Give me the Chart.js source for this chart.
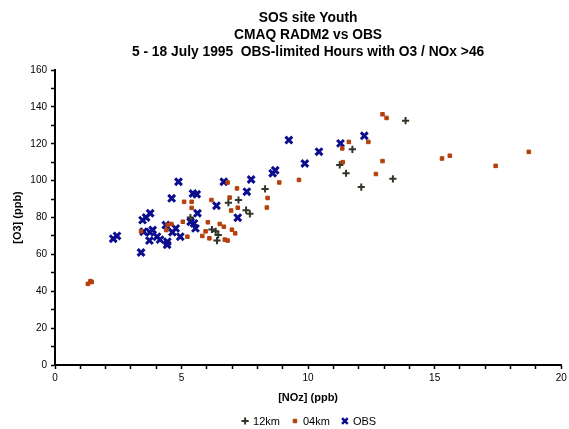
<!DOCTYPE html>
<html>
<head>
<meta charset="utf-8">
<script src="https://cdn.jsdelivr.net/npm/chart.js@4/dist/chart.umd.min.js"></script>
<style>
  html, body { margin: 0; padding: 0; background: #fff; }
  #wrap { width: 569px; height: 429px; }
</style>
</head>
<body>
<div id="wrap"><canvas id="scatter"></canvas></div>
<script>
const titleLines = [
  "SOS site Youth",
  "CMAQ RADM2 vs OBS",
  "5 - 18 July 1995  OBS-limited Hours with O3 / NOx >46",
];
const seriesNames = ["12km", "04km", "OBS"];

// [NOz, O3] pairs
const km12Points = [
  [5.35, 80], [6.2, 73.5], [6.35, 72.5], [6.45, 70.5], [6.4, 67.5],
  [6.85, 88], [7.25, 89.5], [7.55, 84], [7.7, 82], [8.3, 95.5],
  [11.25, 108.5], [11.5, 104], [11.75, 117], [12.1, 96.5], [13.35, 101],
  [13.85, 132.5],
];
const km04Points = [
  [1.3, 44], [1.4, 45.5], [1.45, 45], [3.4, 72.5], [4.4, 73.2],
  [4.45, 76], [4.6, 76.5], [5.05, 77.7], [5.1, 88.5], [5.4, 88.5],
  [5.4, 85.2], [5.23, 69.6], [5.82, 70], [5.95, 72.5], [6.04, 77.4],
  [6.1, 68.7], [6.18, 89.5], [6.51, 76.5], [6.67, 75], [6.71, 68],
  [6.82, 67.5], [6.99, 73.4], [7.12, 71.4], [6.82, 99], [7.19, 95.8],
  [6.9, 90.8], [7.22, 85.3], [6.96, 83.8], [8.4, 90.6], [8.37, 85.4],
  [8.86, 99], [9.64, 100.4], [11.35, 117.5], [11.61, 121], [12.38, 121],
  [12.94, 136], [13.1, 134], [11.37, 110], [12.94, 110.6], [12.68, 103.6],
  [15.29, 112], [15.6, 113.5], [17.41, 108], [18.72, 115.6],
];
const obsPoints = [
  [2.3, 68.5], [2.45, 70], [3.4, 61], [3.46, 78.6], [3.6, 80],
  [3.76, 82.3], [3.5, 72.3], [3.75, 72], [3.86, 73.2], [3.73, 67.5],
  [4.03, 69.6], [4.15, 68], [4.44, 66.9], [4.38, 75.9], [4.64, 72],
  [4.77, 74.1], [4.95, 69.6], [4.61, 90.4], [4.88, 99.4], [5.45, 93],
  [5.6, 92.6], [5.63, 82.3], [5.49, 76.8], [5.36, 77.7], [5.55, 74.1],
  [6.38, 86.4], [6.67, 99.4], [7.22, 79.9], [7.58, 94], [7.75, 100.6],
  [8.6, 104], [8.7, 105.6], [9.24, 122], [9.87, 109.3], [10.43, 115.7],
  [11.28, 120.2], [12.22, 124.3], [4.43, 65.2],
];

const xMin = 0, xMax = 20, yMin = 0, yMax = 160;

const toXY = (arr) => arr.map(([x, y]) => ({ x, y }));

const styles = [
  { pointStyle: "cross", radius: 3.6, borderWidth: 2, color: "#343428" },
  { pointStyle: "rect", radius: 2.5, borderWidth: 1, color: "#b5400c" },
  { pointStyle: "crossRot", radius: 4.8, borderWidth: 3, color: "#0c0c8e" },
];

// titles and legend centred on the plot area, like the original
const textPlugin = {
  id: "texts",
  afterDraw(chart) {
    const { ctx, chartArea } = chart;
    const cx = (chartArea.left + chartArea.right) / 2;
    ctx.save();
    ctx.fillStyle = "#000";
    ctx.textAlign = "center";
    ctx.textBaseline = "middle";
    ctx.font = 'bold 13.8px "Liberation Sans", Arial, sans-serif';
    titleLines.forEach((t, i) => ctx.fillText(t, cx, 18 + i * 17));

    ctx.font = '11px "Liberation Sans", Arial, sans-serif';
    const markW = 10, gap = 3, itemGap = 10;
    const widths = seriesNames.map((n) => markW + gap + ctx.measureText(n).width);
    const total = widths.reduce((a, b) => a + b, 0) + itemGap * (widths.length - 1);
    let x = cx - total / 2;
    const y = 421;
    ctx.textAlign = "left";
    seriesNames.forEach((n, i) => {
      const s = styles[i];
      ctx.strokeStyle = s.color;
      ctx.fillStyle = s.color;
      ctx.lineWidth = Math.min(s.borderWidth, 2.5);
      Chart.helpers.drawPoint(ctx, { pointStyle: s.pointStyle, radius: Math.min(s.radius, 4), borderWidth: s.borderWidth, rotation: 0 }, x + markW / 2, y);
      ctx.fillStyle = "#000";
      ctx.fillText(n, x + markW + gap, y + 1);
      x += widths[i] + itemGap;
    });
    ctx.restore();
  },
};

new Chart(document.getElementById("scatter"), {
  type: "scatter",
  data: {
    datasets: [km12Points, km04Points, obsPoints].map((pts, i) => ({
      label: seriesNames[i],
      data: toXY(pts),
      pointStyle: styles[i].pointStyle,
      pointRadius: styles[i].radius,
      pointHoverRadius: styles[i].radius,
      pointBorderWidth: styles[i].borderWidth,
      borderColor: styles[i].color,
      backgroundColor: styles[i].color,
    })),
  },
  options: {
    responsive: true,
    maintainAspectRatio: false,
    animation: false,
    layout: { padding: { top: 70, right: 0, left: 0, bottom: 24 } },
    plugins: {
      legend: { display: false },
      title: { display: false },
      tooltip: { enabled: false },
    },
    scales: {
      x: {
        type: "linear",
        min: xMin,
        max: xMax,
        afterFit: (scale) => {
          scale.height = 40;
          scale.paddingRight = 1; // let the "20" sit at the edge like the original
        },
        ticks: {
          stepSize: 1,
          autoSkip: false,
          maxRotation: 0,
          padding: 3,
          color: "#000",
          font: { family: '"Liberation Sans", Arial', size: 10 },
          callback: (v) => (v % 5 === 0 ? v : ""),
        },
        grid: { drawOnChartArea: false, drawTicks: true, tickLength: 4, tickWidth: 1.5, tickColor: "#000" },
        border: { color: "#000", width: 2 },
        title: {
          display: true,
          text: "[NOz] (ppb)",
          color: "#000",
          padding: { top: 4, bottom: 0 },
          font: { family: '"Liberation Sans", Arial', size: 11, weight: "bold" },
        },
      },
      y: {
        type: "linear",
        min: yMin,
        max: yMax,
        afterFit: (scale) => { scale.width = 55; },
        ticks: {
          stepSize: 10,
          autoSkip: false,
          padding: 4,
          color: "#000",
          font: { family: '"Liberation Sans", Arial', size: 10 },
          callback: (v) => (v % 20 === 0 ? v : ""),
        },
        grid: { drawOnChartArea: false, drawTicks: true, tickLength: 4, tickWidth: 1.5, tickColor: "#000" },
        border: { color: "#000", width: 2 },
        title: {
          display: true,
          text: "[O3] (ppb)",
          color: "#000",
          padding: { top: 11, bottom: 0 },
          font: { family: '"Liberation Sans", Arial', size: 11, weight: "bold" },
        },
      },
    },
  },
  plugins: [textPlugin],
});
</script>
</body>
</html>
